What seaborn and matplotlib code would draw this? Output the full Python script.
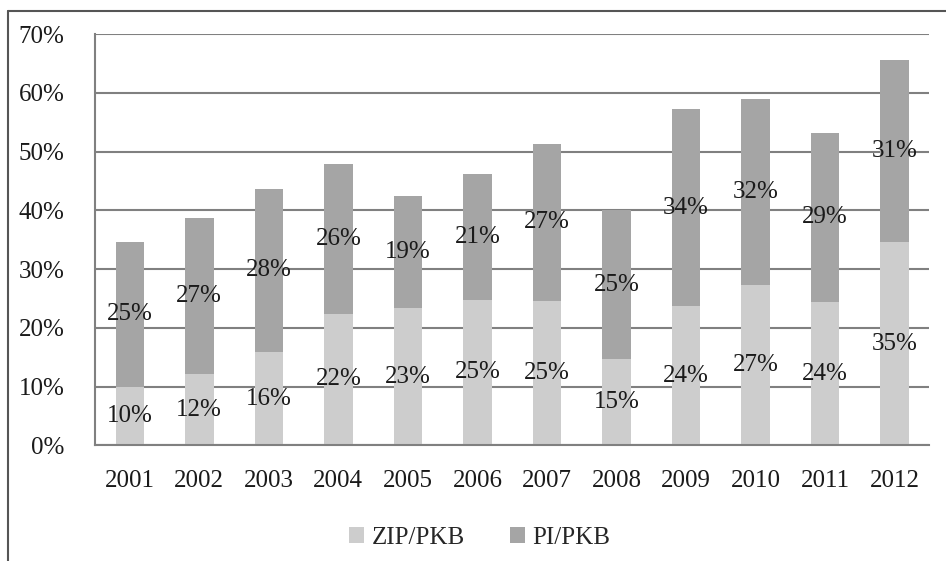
import matplotlib
matplotlib.use("Agg")
import matplotlib.pyplot as plt
from matplotlib.lines import Line2D
from matplotlib.patches import Patch
import seaborn as sns
import pandas as pd
import numpy as np

years = ["2001", "2002", "2003", "2004", "2005", "2006",
         "2007", "2008", "2009", "2010", "2011", "2012"]
zip_pkb = [10.0, 12.1, 15.8, 22.4, 23.4, 24.8, 24.6, 14.7, 23.7, 27.3, 24.4, 34.6]
pi_pkb = [24.6, 26.6, 27.9, 25.5, 19.0, 21.4, 26.7, 25.3, 33.5, 31.7, 28.8, 30.9]
y_ticks = [0, 10, 20, 30, 40, 50, 60, 70]
series_names = ["ZIP/PKB", "PI/PKB"]

c_zip = "#CDCDCD"
c_pi = "#A5A5A5"
c_axis = "#808080"
font = ["Liberation Serif", "DejaVu Serif"]

sns.set_style("white")
plt.rcParams["font.family"] = font

df = pd.DataFrame({"year": years, "zip": zip_pkb, "pi": pi_pkb})
df["total"] = df["zip"] + df["pi"]

fig = plt.figure(figsize=(9.46, 5.61), dpi=100)
ax = fig.add_axes([95 / 946, 1 - 445.3 / 561, (929.3 - 95) / 946, (445.3 - 34) / 561])

sns.barplot(data=df, x="year", y="total", color=c_pi, width=0.41,
            saturation=1, ax=ax, zorder=3, linewidth=0)
sns.barplot(data=df, x="year", y="zip", color=c_zip, width=0.41,
            saturation=1, ax=ax, zorder=4, linewidth=0)

fs = 18
txt = "#1a1a1a"
for i, (z, p) in enumerate(zip(zip_pkb, pi_pkb)):
    ax.text(i, z / 2, f"{z:.0f}%", ha="center", va="center",
            fontsize=fs, color=txt, zorder=6)
    ax.text(i, z + p / 2, f"{p:.0f}%", ha="center", va="center",
            fontsize=fs, color=txt, zorder=6)

ax.set_xlim(-0.5, len(years) - 0.5)
ax.set_ylim(0, 70)
ax.set_yticks(y_ticks)
ax.set_yticklabels([f"{v}%" for v in y_ticks], fontsize=fs, color=txt)
ax.set_xticks(range(len(years)))
ax.set_xticklabels(years, fontsize=fs, color=txt)
ax.set_xticks(np.arange(-0.5, len(years)), minor=True)
ax.tick_params(axis="x", which="major", length=0, pad=18)
ax.tick_params(axis="x", which="minor", length=8, width=1.5, color=c_axis, direction="out")
ax.tick_params(axis="y", length=8, width=1.5, color=c_axis, direction="out", pad=14)
ax.set_xlabel("")
ax.set_ylabel("")

ax.yaxis.grid(True, color=c_axis, linewidth=1.5, zorder=0)
ax.set_axisbelow(True)
for s in ["top", "right"]:
    ax.spines[s].set_visible(False)
for s in ["left", "bottom"]:
    ax.spines[s].set_color(c_axis)
    ax.spines[s].set_linewidth(1.5)
    ax.spines[s].set_zorder(5)

handles = [Patch(facecolor=c_zip, edgecolor="none"), Patch(facecolor=c_pi, edgecolor="none")]
fig.legend(handles, series_names, loc="center", bbox_to_anchor=(480 / 946, 1 - 538 / 561),
           ncol=2, frameon=False, fontsize=fs, handlelength=0.6, handleheight=0.6,
           handletextpad=0.3, columnspacing=1.8)

# outer chart frame (cropped)
fig.add_artist(Line2D([8 / 946, 1.0], [1 - 11 / 561, 1 - 11 / 561],
                      transform=fig.transFigure, color="#555555", linewidth=1.5))
fig.add_artist(Line2D([8 / 946, 8 / 946], [1 - 11 / 561, 0.0],
                      transform=fig.transFigure, color="#555555", linewidth=1.5))

fig.savefig("out.png", dpi=100)
